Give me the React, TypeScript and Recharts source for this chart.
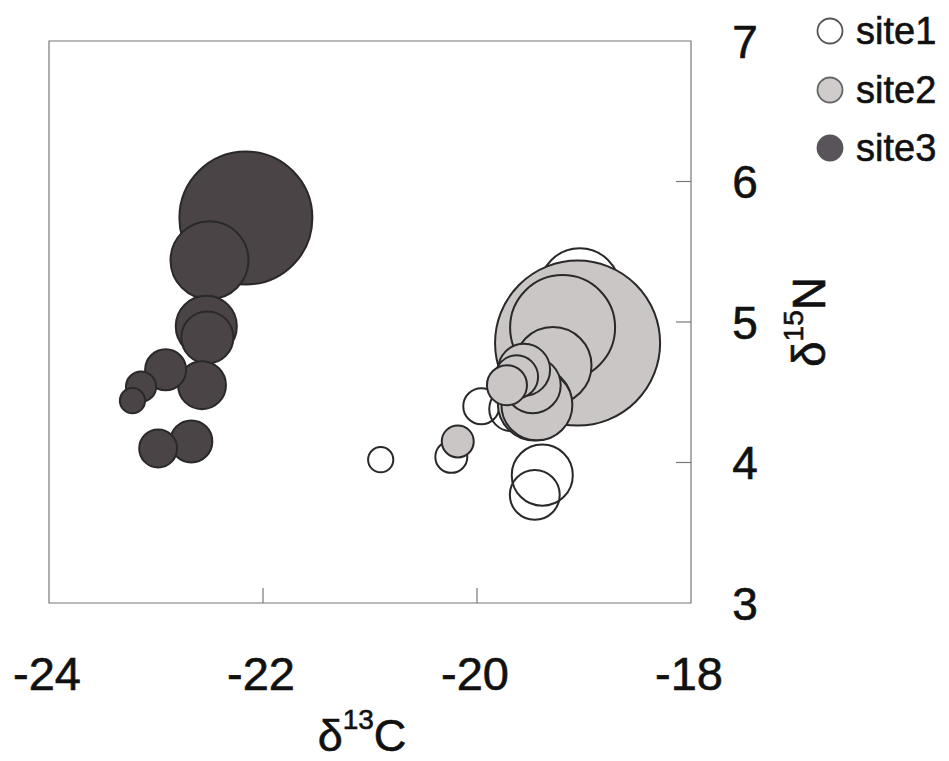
import React from "react";
import {
  Label,
  Legend,
  ReferenceArea,
  Scatter,
  ScatterChart,
  XAxis,
  YAxis,
  ZAxis,
} from "recharts";

const FONT = '"Liberation Sans", Arial, sans-serif';

// d13C (x), d15N (y), bubble size (z) per site
const SITE1_C13 = [-19.04, -19.39, -19.46, -19.68, -19.96, -20.24, -20.9];
const SITE1_N15 = [5.24, 3.91, 3.77, 4.38, 4.4, 4.04, 4.02];
const SITE1_SIZE = [23.2, 13.5, 9.0, 7.0, 4.7, 3.7, 2.3];

const SITE2_C13 = [-19.06, -19.2, -19.29, -19.46, -19.44, -19.48, -19.56, -19.63, -19.72, -20.18];
const SITE2_N15 = [4.85, 4.96, 4.69, 4.42, 4.41, 4.55, 4.66, 4.61, 4.55, 4.15];
const SITE2_SIZE = [98.6, 39.9, 21.5, 19.8, 18.2, 11.4, 9.8, 6.7, 5.8, 3.7];

const SITE3_C13 = [-22.16, -22.5, -22.53, -22.52, -22.57, -22.67, -22.91, -22.98, -23.14, -23.22];
const SITE3_N15 = [5.74, 5.44, 4.97, 4.89, 4.55, 4.15, 4.66, 4.1, 4.54, 4.44];
const SITE3_SIZE = [64.0, 22.0, 13.5, 9.8, 8.3, 6.4, 6.1, 5.2, 3.3, 2.3];

const X_TICKS = [-24, -22, -20, -18];
const Y_TICKS = [3, 4, 5, 6, 7];

const toPoints = (xs: number[], ys: number[], zs: number[]) =>
  xs.map((x, i) => ({ x, y: ys[i], z: zs[i] }));

const SERIES = [
  { name: "site1", data: toPoints(SITE1_C13, SITE1_N15, SITE1_SIZE), fill: "none", legendFill: "#ffffff", legendStroke: "#555" },
  { name: "site2", data: toPoints(SITE2_C13, SITE2_N15, SITE2_SIZE), fill: "#c9c6c5", legendFill: "#cfcccb", legendStroke: "#666" },
  { name: "site3", data: toPoints(SITE3_C13, SITE3_N15, SITE3_SIZE), fill: "#4a4447", legendFill: "#58545a", legendStroke: "#58545a" },
];

// slight stroke to mimic the heavier print of the original labels
const TEXT_STYLE = { fontFamily: FONT, fill: "#111", stroke: "#111", strokeWidth: 0.6 };

function XTick({ x, y, payload }: any) {
  const v = payload.value;
  const edge = v === X_TICKS[0] || v === X_TICKS[X_TICKS.length - 1];
  return (
    <g>
      {!edge && <line x1={x} x2={x} y1={y} y2={y - 15} stroke="#777" strokeWidth={1.2} />}
      <text x={x - 2} y={y + 87} textAnchor="middle" fontSize={47} {...TEXT_STYLE}>
        {v}
      </text>
    </g>
  );
}

function YTick({ x, y, payload }: any) {
  const v = payload.value;
  const edge = v === Y_TICKS[0] || v === Y_TICKS[Y_TICKS.length - 1];
  return (
    <g>
      {!edge && <line x1={x} x2={x - 15} y1={y} y2={y} stroke="#777" strokeWidth={1.2} />}
      <text x={x + 54} y={y} dy="0.36em" textAnchor="middle" fontSize={46} {...TEXT_STYLE}>
        {v}
      </text>
    </g>
  );
}

function XTitle({ viewBox }: any) {
  const cx = viewBox.x + viewBox.width / 2 - 8;
  const by = viewBox.y + 148;
  return (
    <text x={cx} y={by} textAnchor="middle" fontSize={45} {...TEXT_STYLE}>
      <tspan>δ</tspan>
      <tspan fontSize={28} dy={-22}>13</tspan>
      <tspan dy={22}>C</tspan>
    </text>
  );
}

function YTitle({ viewBox }: any) {
  const bx = viewBox.x + 134;
  const cy = viewBox.y + viewBox.height / 2;
  return (
    <text
      x={bx}
      y={cy}
      transform={`rotate(-90 ${bx} ${cy})`}
      textAnchor="middle"
      fontSize={46}
      {...TEXT_STYLE}
    >
      <tspan>δ</tspan>
      <tspan fontSize={28} dy={-22}>15</tspan>
      <tspan dy={22}>N</tspan>
    </text>
  );
}

function LegendBox({ payload }: any) {
  return (
    <div style={{ fontFamily: FONT }}>
      {(payload || []).map((entry: any) => {
        const s = SERIES.find((d) => d.name === entry.value)!;
        return (
          <div key={entry.value} style={{ display: "flex", alignItems: "center", height: 58.5 }}>
            <svg width={28} height={28}>
              <circle cx={14} cy={14} r={12.5} fill={s.legendFill} stroke={s.legendStroke} strokeWidth={1.8} />
            </svg>
            <span
              style={{
                fontSize: 38,
                marginLeft: 12,
                color: "#111",
                lineHeight: "40px",
                WebkitTextStroke: "0.6px #111",
              }}
            >
              {entry.value}
            </span>
          </div>
        );
      })}
    </div>
  );
}

export default function App() {
  return (
    <div style={{ position: "absolute", left: 0, top: 0, width: 949, height: 761, background: "#fff" }}>
      <ScatterChart width={949} height={761} margin={{ top: 41, right: 108, bottom: 8, left: 49 }}>
        <XAxis
          type="number"
          dataKey="x"
          domain={[-24, -18]}
          ticks={X_TICKS}
          height={150}
          axisLine={false}
          tickLine={false}
          tickSize={0}
          tickMargin={0}
          tick={<XTick />}
          interval={0}
        >
          <Label content={<XTitle />} />
        </XAxis>
        <YAxis
          type="number"
          dataKey="y"
          orientation="right"
          domain={[3, 7]}
          ticks={Y_TICKS}
          width={150}
          axisLine={false}
          tickLine={false}
          tickSize={0}
          tickMargin={0}
          tick={<YTick />}
          interval={0}
        >
          <Label content={<YTitle />} />
        </YAxis>
        <ZAxis type="number" dataKey="z" domain={[0, 100]} range={[0, 21700]} />
        <ReferenceArea x1={-24} x2={-18} y1={3} y2={7} fill="none" stroke="#777" strokeWidth={1.2} />
        {SERIES.map((s) => (
          <Scatter
            key={s.name}
            name={s.name}
            data={s.data}
            fill={s.fill}
            stroke="#2a2829"
            strokeWidth={2}
            shape="circle"
            isAnimationActive={false}
          />
        ))}
        <Legend
          layout="vertical"
          align="center"
          verticalAlign="middle"
          content={<LegendBox />}
          wrapperStyle={{ left: 816, top: 2, width: 133 }}
        />
      </ScatterChart>
    </div>
  );
}
